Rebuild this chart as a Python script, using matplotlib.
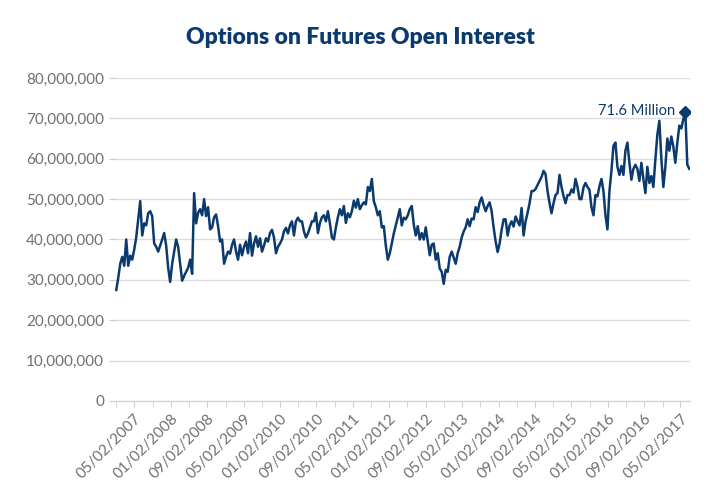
import numpy as np
import pandas as pd
import matplotlib
matplotlib.use("Agg")
import matplotlib.pyplot as plt
import matplotlib.dates as mdates
from matplotlib.ticker import FuncFormatter, FixedLocator

# Open interest, millions of contracts (~every 2 weeks)
oi_2007_2008 = [27.5, 30.5, 34, 35.7, 33.5, 40, 33.5, 36, 35, 37.5, 40.5, 45, 49.5, 41, 44, 43.5,
                46.5, 47, 45.8, 39, 38.2, 37, 38.5, 40, 41.6, 38.5, 33, 29.5, 34, 37, 40, 38.2,
                34, 29.8, 31, 32, 33, 35, 31.5, 51.5, 44, 46.6, 47.5, 46, 50, 45.8, 48, 42.5]
oi_2008_2010 = [43, 45.5, 46.2, 43.3, 39.5, 40, 34, 35.7, 37, 36.5, 38.7, 40, 37, 35, 38.7, 36.1,
                38.2, 39.5, 36.6, 41.6, 36, 39, 40.8, 38.2, 40.3, 37, 38.5, 40.3, 39.5, 41.6, 42.4,
                40.5, 36.6, 38.2, 39, 40, 42, 42.9, 41.5, 43.5, 44.5, 41, 44.5, 45.4, 44.5]
oi_2010_2012 = [44.5, 42, 40.5, 41.5, 43, 44.5, 44.5, 46.6, 41.6, 44.1, 45.5, 46, 44.5, 47, 44,
                40.5, 40, 43, 45.5, 47.5, 46, 48.3, 44.1, 46.5, 45.5, 47, 49.6, 47.9, 50, 47.5,
                48.5, 49.2, 48.7, 53, 52, 55, 49.5, 48, 46, 47, 43, 43.3, 38.5, 35, 36.6, 39,
                41.5, 43.5, 45.5, 47.5]
oi_2012_2014 = [43.5, 45.4, 45, 46, 47.5, 48.3, 43.7, 41, 43.3, 40, 41.6, 40, 43, 39.5, 36.1, 38.7,
                39, 35, 36.6, 32.8, 32, 29, 32.5, 32, 35.7, 37, 35.5, 34, 36.6, 38.2, 40.5, 42, 43,
                45, 43.3, 45.2, 45, 48, 46.8, 49.2, 50.4, 48.5, 47, 48.3, 49.2, 47, 43]
oi_2014_2015 = [39.5, 36.9, 39, 42.4, 45, 45, 41, 43.5, 44.5, 43.2, 45.7, 44.5, 43.5, 47.8, 41,
                44.5, 46.6, 49, 52, 52, 52.5, 53.5, 54.5, 55.5, 57, 56.2, 52, 49, 46.5, 49, 51,
                51.5, 56, 53, 50.8, 49, 51, 51, 52.4, 51.6, 55, 53, 50, 50, 52.9, 54, 53]
oi_2015_2017 = [52.3, 48, 46, 51, 50.7, 53.2, 55, 52, 46, 42.5, 52, 57, 63.2, 64, 58, 56, 58.2, 56,
                62, 64, 59, 54.8, 57.5, 58.5, 57.5, 54.5, 59, 55, 51.5, 58, 54, 55.7, 53, 59.8, 66,
                69.4, 60, 53, 58, 65, 62, 65.5, 63, 59, 64, 68.2, 67.5, 69.8, 71.6, 58.5, 57.5]

values = np.array(oi_2007_2008 + oi_2008_2010 + oi_2010_2012 + oi_2012_2014
                  + oi_2014_2015 + oi_2015_2017) * 1e6
dates = pd.date_range("2007-01-02", "2017-06-30", periods=len(values))

major_ticks = pd.date_range("2007-05-01", "2017-05-01", freq="8MS") + pd.Timedelta(days=1)
minor_ticks = pd.date_range("2007-01-01", "2017-05-01", freq="4MS") + pd.Timedelta(days=1)

navy = "#0b3a6e"
grey = "#707070"

plt.rcParams["font.family"] = ["Lato", "DejaVu Sans"]

fig = plt.figure(figsize=(7.2, 5), dpi=100)
ax = fig.add_axes([0.16, 0.198, 0.798, 0.646])

ax.plot(dates, values, color=navy, lw=1.8, solid_joinstyle="round")

imax = int(np.argmax(values))
ax.plot(dates[imax], values[imax], marker="D", color=navy, ms=6.5)
ax.annotate("71.6 Million", (dates[imax], values[imax]), xytext=(-7, 1),
            textcoords="offset points", ha="right", va="center",
            color=navy, fontsize=10.5)

ax.set_ylim(0, 80e6)
ax.set_yticks(np.arange(0, 80e6 + 1, 10e6))
ax.yaxis.set_major_formatter(FuncFormatter(lambda v, p: f"{v:,.0f}"))
ax.set_xlim(pd.Timestamp("2006-12-26"), pd.Timestamp("2017-07-03"))
ax.xaxis.set_major_locator(FixedLocator(mdates.date2num(major_ticks)))
ax.xaxis.set_minor_locator(FixedLocator(mdates.date2num(minor_ticks)))
ax.xaxis.set_major_formatter(mdates.DateFormatter("%m/%d/%Y"))

ax.grid(axis="y", color="#dcdcdc", lw=1)
ax.set_axisbelow(True)
for s in ["top", "right", "left"]:
    ax.spines[s].set_visible(False)
ax.spines["bottom"].set_color("#d0d0d0")

ax.tick_params(axis="y", length=4, color="#cccccc", labelcolor=grey, labelsize=11, pad=4)
ax.tick_params(axis="x", which="both", length=4, color="#cccccc", labelcolor=grey, labelsize=11)
plt.setp(ax.get_xticklabels(), rotation=45, ha="right", rotation_mode="anchor")

fig.text(0.5, 0.926, "Options on Futures Open Interest", ha="center", va="center",
         fontsize=16.5, fontweight="heavy", color=navy)

fig.savefig("out.png", dpi=100)
